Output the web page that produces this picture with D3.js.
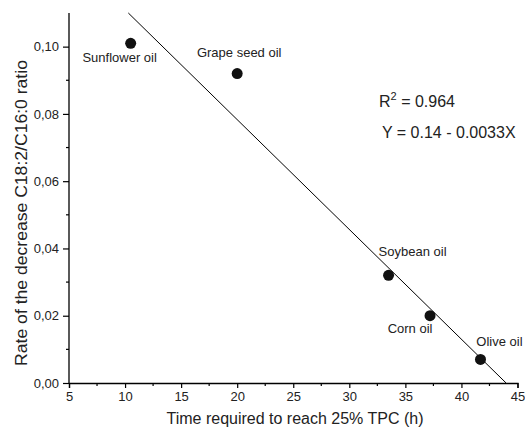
<!DOCTYPE html>
<html><head><meta charset="utf-8">
<script src="https://cdn.jsdelivr.net/npm/d3@7"></script>
<style>body{margin:0;background:#fff}svg{display:block}text{font-family:"Liberation Sans",Arial,sans-serif;fill:#222}</style>
</head><body><svg id="c" width="525" height="438"></svg>
<script>
const oils = ["Sunflower oil","Grape seed oil","Soybean oil","Corn oil","Olive oil"];
const timeH = [10.5, 20.0, 33.5, 37.2, 41.7];
const rate = [0.101, 0.092, 0.032, 0.020, 0.007];
const xTicks = [5,10,15,20,25,30,35,40,45];
const yTicks = [0,0.02,0.04,0.06,0.08,0.10];
const fitIntercept = 0.1436, fitSlope = -0.003265, fitXRange = [10.29, 43.98];
const r2Text = "0.964", eqText = "Y = 0.14 - 0.0033X";

// label placement (style/layout, separate from data)
const labelOffsets = [[-11,19],[2,-17],[24,-19],[-20,17],[19,-13]];

const svg = d3.select("#c");
const x = d3.scaleLinear().domain([5,45]).range([69,517.5]);
const y = d3.scaleLinear().domain([0,0.11]).range([383,13]);

// axes
const xAxis = d3.axisBottom(x).tickValues(xTicks).tickFormat(d3.format("d")).tickSizeOuter(0).tickSize(5).tickPadding(4);
const yAxis = d3.axisLeft(y).tickValues(yTicks).tickFormat(d => d3.format(".2f")(d).replace(".",",")).tickSizeOuter(0).tickSize(6).tickPadding(4);
const gx = svg.append("g").attr("transform","translate(0,383)").call(xAxis);
const gy = svg.append("g").attr("transform","translate(69,0)").call(yAxis);
// minor ticks
const xMinor = d3.range(7.5,45,5), yMinor = d3.range(0.01,0.11,0.02);
gx.selectAll(".mt").data(xMinor).enter().append("line").attr("x1",d=>x(d)).attr("x2",d=>x(d)).attr("y1",0).attr("y2",3).attr("stroke","#000").attr("stroke-width",1.2);
gy.selectAll(".mt").data(yMinor).enter().append("line").attr("y1",d=>y(d)).attr("y2",d=>y(d)).attr("x1",0).attr("x2",-3).attr("stroke","#000").attr("stroke-width",1.2);
[gx,gy].forEach(g=>{
  g.select(".domain").attr("stroke","#000").attr("stroke-width",1.3);
  g.selectAll(".tick line").attr("stroke","#000").attr("stroke-width",1.2);
  g.selectAll(".tick text").attr("font-size",13).attr("font-family","Liberation Sans, Arial, sans-serif").attr("fill","#222");
});
gy.select(".domain").attr("d","M0,383V13");

// fit line
svg.append("line")
  .attr("x1",x(fitXRange[0])).attr("y1",y(fitIntercept+fitSlope*fitXRange[0]))
  .attr("x2",x(fitXRange[1])).attr("y2",y(fitIntercept+fitSlope*fitXRange[1]))
  .attr("stroke","#000").attr("stroke-width",1);

// points
const pts = oils.map((o,i)=>({name:o,x:timeH[i],y:rate[i],off:labelOffsets[i]}));
svg.selectAll("circle.p").data(pts).enter().append("circle")
  .attr("cx",d=>x(d.x)).attr("cy",d=>y(d.y)).attr("r",5.5).attr("fill","#111");
svg.selectAll("text.lbl").data(pts).enter().append("text")
  .attr("x",d=>x(d.x)+d.off[0]).attr("y",d=>y(d.y)+d.off[1])
  .attr("text-anchor","middle").attr("font-size",13).text(d=>d.name);

// equation
const t1 = svg.append("text").attr("x",379).attr("y",107).attr("font-size",16);
t1.append("tspan").text("R");
t1.append("tspan").attr("dy",-7).attr("font-size",11).text("2");
t1.append("tspan").attr("dy",7).text(" = " + r2Text);
svg.append("text").attr("x",382).attr("y",138).attr("font-size",16).text(eqText);

// axis titles
svg.append("text").attr("x",295).attr("y",424).attr("text-anchor","middle").attr("font-size",16).text("Time required to reach 25% TPC (h)");
svg.append("text").attr("transform","translate(27,213) rotate(-90) scale(1.1,1)").attr("text-anchor","middle").attr("font-size",16).text("Rate of the decrease C18:2/C16:0 ratio");
</script></body></html>
